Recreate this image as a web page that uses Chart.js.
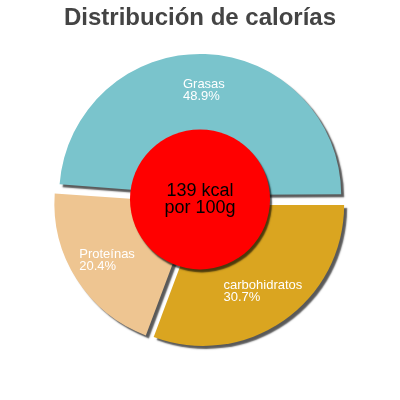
<!DOCTYPE html>
<html><head><meta charset="utf-8">
<script src="https://cdn.jsdelivr.net/npm/chart.js@4"></script>
<style>html,body{margin:0;padding:0;background:#fff}canvas{display:block}</style>
</head><body>
<canvas id="c" width="400" height="400"></canvas>
<script>
const titleText = 'Distribución de calorías';
const categories = ['Grasas', 'carbohidratos', 'Proteínas'];
const percentages = [48.9, 30.7, 20.4];
const sliceColors = ['#7AC4CC', '#DAA520', '#EEC591'];
const centerLines = ['139 kcal', 'por 100g'];

const FONT = '"Liberation Sans", Arial, sans-serif';
const OFFSET = 22;      // chart.js translates by offset/4
const RADIUS = 141;

const shadowPlugin = {
  id: 'shadowPlugin',
  afterUpdate(chart) {
    const meta = chart.getDatasetMeta(0);
    meta.data.forEach(el => {
      const circ = el.endAngle - el.startAngle;
      const fix = 1 - Math.sin(Math.min(Math.PI, circ));
      el.outerRadius = RADIUS - (OFFSET / 4) * fix;
    });
  },
  beforeDatasetsDraw(chart) {
    const ctx = chart.ctx;
    ctx.save();
    ctx.shadowColor = 'rgba(0,0,0,0.65)';
    ctx.shadowOffsetX = 3;
    ctx.shadowOffsetY = 3;
    ctx.shadowBlur = 1.5;
  },
  afterDatasetsDraw(chart) {
    const ctx = chart.ctx;
    ctx.restore();
    const meta = chart.getDatasetMeta(0);
    const el0 = meta.data[0];
    const cx = el0.x, cy = el0.y;
    ctx.save();
    ctx.shadowColor = 'rgba(0,0,0,0.65)';
    ctx.shadowOffsetX = 2;
    ctx.shadowOffsetY = 3;
    ctx.shadowBlur = 1.5;
    ctx.beginPath();
    ctx.arc(cx, cy - 1, 70, 0, Math.PI * 2);
    ctx.fillStyle = '#FF0000';
    ctx.fill();
    ctx.restore();
    ctx.save();
    ctx.fillStyle = '#000';
    ctx.font = '18px ' + FONT;
    ctx.textAlign = 'center';
    ctx.textBaseline = 'alphabetic';
    ctx.fillText(centerLines[0], cx, cy - 4);
    ctx.fillText(centerLines[1], cx, cy + 13);
    ctx.restore();
    ctx.save();
    ctx.fillStyle = '#FFFFFF';
    ctx.font = '13px ' + FONT;
    ctx.textAlign = 'left';
    ctx.textBaseline = 'middle';
    meta.data.forEach((el, i) => {
      const mid = (el.startAngle + el.endAngle) / 2;
      const r = OFFSET / 4 + 105;
      const lx = el.x + Math.cos(mid) * r;
      const ly = el.y + Math.sin(mid) * r;
      const l1 = categories[i];
      const l2 = percentages[i].toFixed(1) + '%';
      const w = Math.max(ctx.measureText(l1).width, ctx.measureText(l2).width);
      ctx.fillText(l1, lx - w / 2, ly - 6);
      ctx.fillText(l2, lx - w / 2, ly + 6);
    });
    ctx.restore();
  }
};

new Chart(document.getElementById('c'), {
  type: 'pie',
  data: {
    labels: categories,
    datasets: [{
      data: percentages,
      backgroundColor: sliceColors,
      borderWidth: 0,
      offset: OFFSET,
      hoverOffset: 0
    }]
  },
  options: {
    responsive: false,
    animation: false,
    devicePixelRatio: 1,
    rotation: -86,
    radius: RADIUS,
    layout: { padding: { top: 0, bottom: 40, left: 20, right: 20 } },
    events: [],
    plugins: {
      legend: { display: false },
      tooltip: { enabled: false },
      title: {
        display: true,
        text: titleText,
        color: '#444444',
        font: { family: FONT, size: 24, weight: 'bold', lineHeight: 1.2 },
        padding: { top: 4, bottom: 8 }
      }
    }
  },
  plugins: [shadowPlugin]
});
</script>
</body></html>
